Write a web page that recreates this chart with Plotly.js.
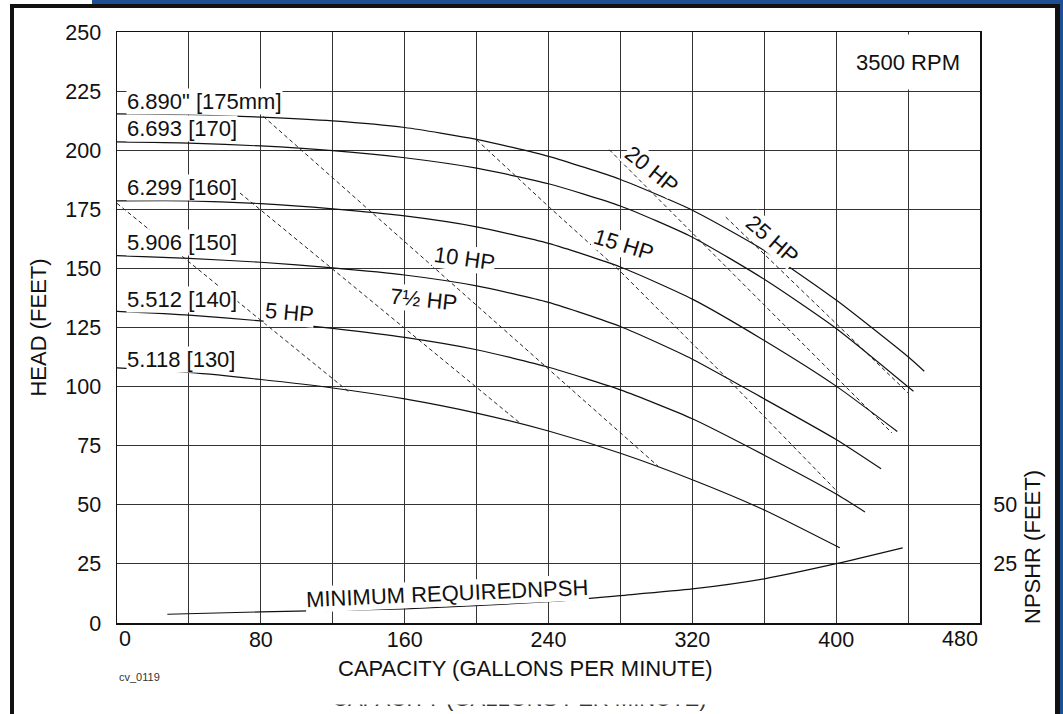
<!DOCTYPE html>
<html><head><meta charset="utf-8">
<script src="https://cdn.plot.ly/plotly-3.0.1.min.js"></script>
<style>html,body{margin:0;padding:0;background:#fff;overflow:hidden}#chart{width:1063px;height:714px}</style>
</head><body><div id="chart"></div>
<script>
// ---- impeller head curves (capacity gpm, head ft) ----
const q175 = [0,40,80,120,160,200,240,280,320,360,400,440,449];
const h175 = [215.4,215.0,214.0,212.4,209.6,204.6,197.4,187.6,174.6,157.6,136.6,112.6,106.5];
const q170 = [0,40,80,120,160,200,240,280,320,360,400,443];
const h170 = [203.5,203.0,201.8,199.8,196.8,192.4,185.8,176.4,163.2,145.4,124.6,98];
const q160 = [0,40,80,120,160,200,240,280,320,360,400,434];
const h160 = [178.6,178.6,177.4,175.2,172.2,167.6,160.6,150.6,137.0,119.5,100.2,81];
const q150 = [0,40,80,120,160,200,240,280,320,360,400,425];
const h150 = [155.4,154.2,152.6,150.2,147.2,142.6,135.6,125.4,111.6,94.8,77.6,65.2];
const q140 = [0,40,80,120,160,200,240,280,320,360,400,416];
const h140 = [131.8,130.2,127.8,124.6,120.8,115.6,108.2,98.6,86.4,71.0,54.6,47];
const q130 = [0,40,80,120,160,200,240,280,320,360,402];
const h130 = [107.9,106.0,103.0,99.4,94.8,88.8,81.2,71.8,60.6,47.8,31.8];
const impellerLabels = ['6.890" [175mm]','6.693 [170]','6.299 [160]','5.906 [150]','5.512 [140]','5.118 [130]'];

// ---- NPSH required ----
const npshQ = [28,80,160,240,280,320,360,400,437];
const npshH = [3.7,4.7,6.0,9.0,11.6,14.4,18.7,25.1,31.8];

// ---- horsepower lines ----
const hp5Q = [0,128.6],   hp5H = [177.5,98];
const hp75Q = [68.4,224.1], hp75H = [181.9,84.6];
const hp10Q = [81.4,301], hp10H = [214.3,66.3];
const hp15Q = [200,240,280,341,401], hp15H = [204.4,176.2,148.7,102.2,55.3];
const hp20Q = [273.8,431], hp20H = [200.2,80.4];
const hp25Q = [338.6,440], hp25H = [171.7,97.3];
const hpLabels = ['5 HP','7½ HP','10 HP','15 HP','20 HP','25 HP'];

// ---- axis ticks ----
const xTickVals = [0,40,80,120,160,200,240,280,320,360,400,440,480];
const xTickText = ['','','80','','160','','240','','320','','400','',''];
const yTickVals = [0,25,50,75,100,125,150,175,200,225,250];
const npshTickVals = [25,50];

const FONT = 'Liberation Sans, Arial, Helvetica, sans-serif';
const INK = '#111';
const FS = 22, TFS = 21.5;

const solid = (x,y) => ({x, y, type:'scatter', mode:'lines', hoverinfo:'skip', showlegend:false,
  line:{color:INK, width:1.2, shape:'spline', smoothing:0.6}});
const dashed = (x,y) => ({x, y, type:'scatter', mode:'lines', hoverinfo:'skip', showlegend:false,
  line:{color:'#222', width:1, dash:'4px,3px'}});

const traces = [
  solid(q175,h175), solid(q170,h170), solid(q160,h160), solid(q150,h150), solid(q140,h140), solid(q130,h130),
  solid(npshQ,npshH),
  dashed(hp5Q,hp5H), dashed(hp75Q,hp75H), dashed(hp10Q,hp10H), dashed(hp15Q,hp15H), dashed(hp20Q,hp20H), dashed(hp25Q,hp25H)
];

const ann = [];
const txt = (o) => Object.assign({xref:'x', yref:'y', showarrow:false, xanchor:'center', yanchor:'middle',
  font:{family:FONT, size:FS, color:INK}}, o);

// impeller labels
const impY = [220.5,209.1,184.4,161,136.8,111.4];
impellerLabels.forEach((t,i)=>ann.push(txt({text:t, x:5, y:impY[i], xanchor:'left', bgcolor:'#fff', borderpad:0})));
// hp labels
const hpPos = [[95.8,131.4,5],[170.7,136.8,6],[193.3,154.4,8],[281.5,160,17],[297.3,191.8,39],[364.4,162.4,41]];
hpLabels.forEach((t,i)=>ann.push(txt({text:t, x:hpPos[i][0], y:hpPos[i][1], textangle:hpPos[i][2], bgcolor:'#fff', borderpad:0})));
// rpm box
ann.push(txt({text:'3500 RPM', x:440, y:237.5, width:138, height:54, bgcolor:'#fff', borderpad:0}));
// npsh label
ann.push(txt({text:'MINIMUM REQUIREDNPSH', x:183.5, y:12.4, textangle:-2.5, bgcolor:'#fff', borderpad:0}));
// end x tick labels
ann.push(txt({text:'0', x:0, y:0, xanchor:'left', yanchor:'top', yshift:-2, font:{family:FONT,size:TFS,color:INK}}));
ann.push(txt({text:'480', x:480, y:0, xanchor:'right', yanchor:'top', yshift:-2, font:{family:FONT,size:TFS,color:INK}}));
// titles
ann.push(txt({text:'CAPACITY (GALLONS PER MINUTE)', xref:'paper', yref:'paper', x:(525-117)/863, y:(623-668)/591}));
ann.push(txt({text:'NPSHR (FEET)', xref:'paper', yref:'paper', x:(1032-117)/863, y:(623-547)/591, textangle:-90}));
ann.push(txt({text:'cv_0119', xref:'paper', yref:'paper', x:0, y:(623-677)/591, xanchor:'left', font:{family:FONT,size:11,color:'#333'}}));
// clipped ghost caption at bottom edge, partly hidden
ann.push(txt({text:'CAPACITY (GALLONS PER MINUTE)', xref:'paper', yref:'paper', x:(519-117)/863, y:(623-713)/591, yanchor:'bottom', font:{family:FONT,size:FS,color:'#333'}}));
ann.push(txt({text:' ', xref:'paper', yref:'paper', x:(519-117)/863, y:(623-694)/591, width:440, height:20, bgcolor:'#fff', borderpad:0}));

// frame shapes (paper coords derived from pixel frame)
const px = v => (v-117)/863, py = v => (623-v)/591;
const rect = (x0,x1,y0,y1,c) => ({type:'rect', xref:'paper', yref:'paper', x0:px(x0), x1:px(x1), y0:py(y1), y1:py(y0), fillcolor:c, line:{width:0}, layer:'above'});
const shapes = [
  rect(92,1063,0,5,'#1f4f93'),
  rect(1060,1063,0,714,'#1f4f93'),
  rect(10,1060,4,8,'#111'),
  rect(10,14,4,714,'#111'),
  rect(1055,1060,4,714,'#111')
];

const layout = {
  width:1063, height:714,
  margin:{l:117, r:83, t:32, b:91},
  paper_bgcolor:'#fff', plot_bgcolor:'#fff',
  font:{family:FONT, size:FS, color:INK},
  showlegend:false,
  xaxis:{range:[0,480], tickmode:'array', tickvals:xTickVals, ticktext:xTickText,
    showgrid:true, gridcolor:'#333', gridwidth:1, zeroline:false,
    showline:true, linecolor:'#111', linewidth:1.5, mirror:true,
    ticks:'', ticklabelstandoff:-3, tickfont:{size:TFS, family:FONT, color:INK}, fixedrange:true},
  yaxis:{range:[0,250], tickmode:'array', tickvals:yTickVals,
    showgrid:true, gridcolor:'#333', gridwidth:1, zeroline:false,
    showline:true, linecolor:'#111', linewidth:1.5, mirror:true,
    ticks:'outside', ticklen:10, tickcolor:'rgba(0,0,0,0)', tickfont:{size:TFS, family:FONT, color:INK},
    title:{text:'HEAD (FEET)', font:{size:FS, family:FONT, color:INK}, standoff:12}, fixedrange:true},
  yaxis2:{range:[0,250], overlaying:'y', side:'right', tickmode:'array', tickvals:npshTickVals,
    showgrid:false, zeroline:false, showline:false, ticks:'outside', ticklen:8, tickcolor:'rgba(0,0,0,0)',
    tickfont:{size:TFS, family:FONT, color:INK}, fixedrange:true},
  annotations:ann,
  shapes:shapes
};
// invisible trace to activate the right axis
traces.push({x:[0], y:[0], yaxis:'y2', type:'scatter', mode:'markers', marker:{opacity:0}, hoverinfo:'skip', showlegend:false});

Plotly.newPlot('chart', traces, layout, {staticPlot:true, displayModeBar:false});
</script></body></html>
